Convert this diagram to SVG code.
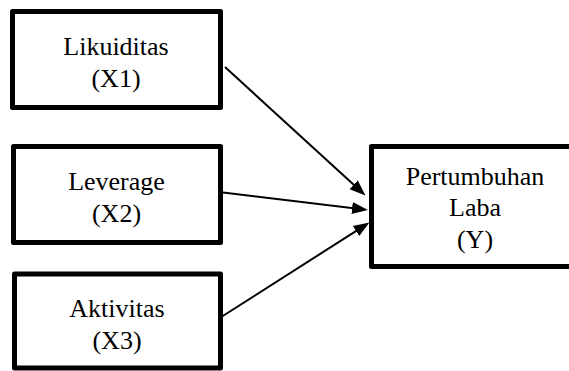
<svg xmlns="http://www.w3.org/2000/svg" width="569" height="371" viewBox="0 0 569 371">
<style>
.box{fill:#fff;stroke:#000;stroke-width:5;stroke-linejoin:round}
.t{font-family:"Liberation Serif","Times New Roman",serif;font-size:26px;fill:#000;text-anchor:middle}
.c{stroke:#000;stroke-width:2;fill:none}
</style>
<defs>
<marker id="ah" markerUnits="userSpaceOnUse" markerWidth="18" markerHeight="14" refX="12" refY="7" orient="auto">
<path d="M0,1 L16,7 L0,13 Z" fill="#000"/>
</marker>
</defs>
<rect width="569" height="371" fill="#fff"/>
<g id="x1">
<rect class="box" x="12.5" y="11.5" width="208" height="96"/>
<text class="t" x="116" y="55">Likuiditas</text>
<text class="t" x="116" y="87">(X1)</text>
</g>
<g id="x2">
<rect class="box" x="13.5" y="146.5" width="207" height="96"/>
<text class="t" x="116.5" y="190">Leverage</text>
<text class="t" x="116.5" y="222">(X2)</text>
</g>
<g id="x3">
<rect class="box" x="14.5" y="274" width="206" height="94"/>
<text class="t" x="117" y="317">Aktivitas</text>
<text class="t" x="117" y="349">(X3)</text>
</g>
<g id="y">
<rect class="box" x="371.5" y="146.5" width="210" height="120"/>
<text class="t" x="475" y="185">Pertumbuhan</text>
<text class="t" x="475" y="216">Laba</text>
<text class="t" x="475" y="248">(Y)</text>
</g>
<g id="connectors">
<line class="c" x1="225" y1="67" x2="362.5" y2="192.8" marker-end="url(#ah)"/>
<line class="c" x1="223" y1="192.5" x2="364" y2="209.5" marker-end="url(#ah)"/>
<line class="c" x1="222" y1="316.5" x2="366.1" y2="224.6" marker-end="url(#ah)"/>
</g>
</svg>
